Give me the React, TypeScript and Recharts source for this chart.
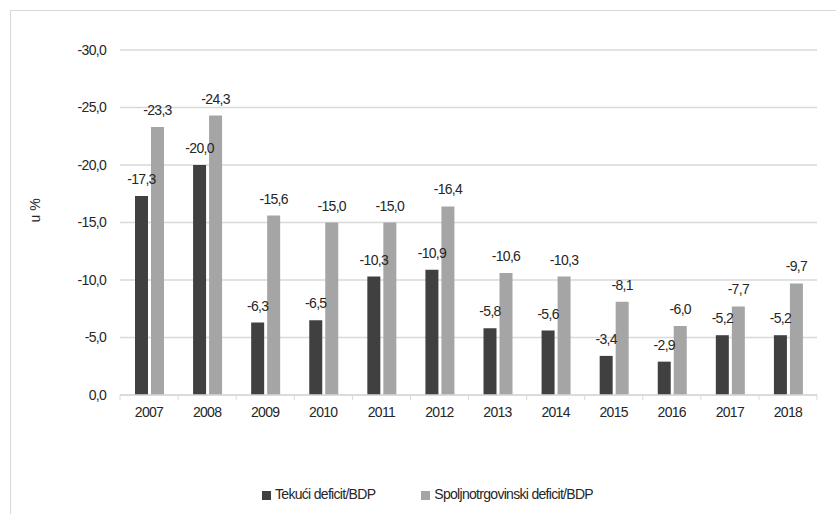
import React from "react";
import { BarChart, Bar, XAxis, YAxis, CartesianGrid, Legend, LabelList } from "recharts";

const years = ["2007", "2008", "2009", "2010", "2011", "2012", "2013", "2014", "2015", "2016", "2017", "2018"];
const tekuci = [-17.3, -20.0, -6.3, -6.5, -10.3, -10.9, -5.8, -5.6, -3.4, -2.9, -5.2, -5.2];
const spoljno = [-23.3, -24.3, -15.6, -15.0, -15.0, -16.4, -10.6, -10.3, -8.1, -6.0, -7.7, -9.7];
const yTicks = [0, -5, -10, -15, -20, -25, -30];

const data = years.map((y, i) => ({ year: y, tekuci: tekuci[i], spoljno: spoljno[i] }));

const FONT = "'Liberation Sans', Arial, sans-serif";
const fmt = (v: any) => Number(v).toFixed(1).replace(".", ",");

const YearTick = (props: any) => {
  const { x, y, payload, index } = props;
  const half = 29;
  return (
    <g>
      <line x1={x - half} y1={y - 8} x2={x - half} y2={y - 3} stroke="#d9d9d9" />
      {index === years.length - 1 && (
        <line x1={x + half} y1={y - 8} x2={x + half} y2={y - 3} stroke="#d9d9d9" />
      )}
      <text x={x} y={y + 14} textAnchor="middle" fill="#262626" fontSize={14} fontFamily={FONT} letterSpacing={-0.7}>
        {payload.value}
      </text>
    </g>
  );
};

export default function App() {
  return (
    <div style={{ position: "absolute", left: 0, top: 0, width: 836, height: 514, background: "#fff", overflow: "hidden" }}>
      <div style={{ position: "absolute", left: 10, top: 10, width: 840, height: 540, border: "1px solid #d9d9d9" }} />
      <BarChart
        width={836}
        height={514}
        data={data}
        margin={{ top: 50, right: 19, left: 0, bottom: 12 }}
        barCategoryGap="25%"
        barGap={3}
        style={{ fontFamily: FONT }}
      >
        <CartesianGrid vertical={false} stroke="#d9d9d9" strokeWidth={1.3} />
        <XAxis
          dataKey="year"
          height={91}
          axisLine={{ stroke: "#d9d9d9", strokeWidth: 1.3 }}
          tickLine={false}
          tick={<YearTick />}
          interval={0}
        />
        <YAxis
          width={120}
          reversed
          domain={[-30, 0]}
          ticks={yTicks}
          tickFormatter={fmt}
          axisLine={false}
          tickLine={false}
          tickMargin={8}
          tick={{ fill: "#262626", fontSize: 14, letterSpacing: -0.7 }}
          label={{ value: "u %", angle: -90, position: "insideLeft", dx: 30, fill: "#262626", fontSize: 14 }}
        />
        <Legend
          verticalAlign="bottom"
          align="center"
          iconType="square"
          iconSize={9}
          itemSorter={(item: any) => (item.dataKey === "tekuci" ? 0 : 1)}
          wrapperStyle={{ fontSize: 14, letterSpacing: -0.7, color: "#262626", paddingLeft: 24 }}
          formatter={(v: any, entry: any) => (
            <span style={{ color: "#262626", marginRight: entry.dataKey === "tekuci" ? 36 : 0 }}>{v}</span>
          )}
        />
        <Bar dataKey="tekuci" name="Tekući deficit/BDP" fill="#404040" barSize={13} isAnimationActive={false}>
          <LabelList dataKey="tekuci" position="top" offset={12} formatter={fmt} fill="#262626" fontSize={14} letterSpacing={-0.7} />
        </Bar>
        <Bar dataKey="spoljno" name="Spoljnotrgovinski deficit/BDP" fill="#a5a5a5" barSize={13} isAnimationActive={false}>
          <LabelList dataKey="spoljno" position="top" offset={12} formatter={fmt} fill="#262626" fontSize={14} letterSpacing={-0.7} />
        </Bar>
      </BarChart>
    </div>
  );
}
